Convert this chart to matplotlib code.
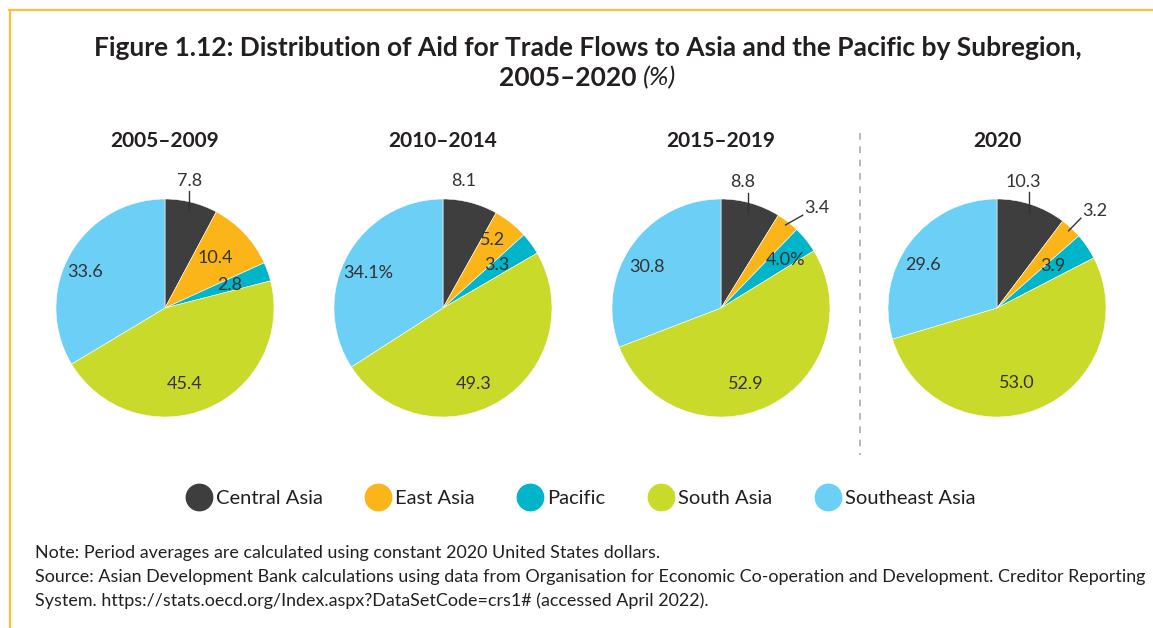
import matplotlib
matplotlib.use("Agg")
import matplotlib.pyplot as plt
import numpy as np
from matplotlib.lines import Line2D

# ---------------- data ----------------
categories = ["Central Asia", "East Asia", "Pacific", "South Asia", "Southeast Asia"]
periods = ["2005–2009", "2010–2014", "2015–2019", "2020"]
v_2005_2009 = [7.8, 10.4, 2.8, 45.4, 33.6]
v_2010_2014 = [8.1, 5.2, 3.3, 49.3, 34.1]
v_2015_2019 = [8.8, 3.4, 4.0, 52.9, 30.8]
v_2020 = [10.3, 3.2, 3.9, 53.0, 29.6]
series = [v_2005_2009, v_2010_2014, v_2015_2019, v_2020]
# label suffixes as printed in the original
suffixes = [["", "", "", "", ""],
            ["", "", "", "", "%"],
            ["", "", "%", "", ""],
            ["", "", "", "", ""]]

colors = ["#3E3E3E", "#FBB519", "#00B5CA", "#C9DA2A", "#6CCFF6"]
TXT = "#231F20"
LBL = "#333333"

# ---------------- layout / style ----------------
W, H, DPI = 1153, 628, 100
R = 109                      # pie radius in px
CY = 308                     # pie centre y (px from top)
CX = [165, 443, 721, 997]    # pie centre x
EXT = 1.45

# label placement: radius fraction and angle offset from wedge mid-angle
lab_r = [[1.19, 0.65, 0.633, 0.72, 0.80],
         [1.18, 0.775, 0.633, 0.753, 0.76],
         [1.17, 1.27, 0.734, 0.734, 0.78],
         [1.18, 1.265, 0.642, 0.712, 0.785]]
lab_off = [[2.9, 1.8, 0, -8, 5.3],
           [5.5, 2.2, 2.3, -9.3, 3.6],
           [6.3, -6, -2, -8.3, 5.7],
           [6.8, -2.5, 2.5, -7, 6.5]]
leaders = [{0: "v"}, {}, {0: "v", 1: "d"}, {0: "v", 1: "d"}]

plt.rcParams["font.family"] = ["Lato", "DejaVu Sans"]
fig = plt.figure(figsize=(W / DPI, H / DPI), dpi=DPI)
fig.patch.set_facecolor("white")


def fx(px):
    return px / W


def fy(py):
    return 1 - py / H


# frame lines (yellow)
fig.add_artist(Line2D([fx(9), 1.0], [fy(10), fy(10)], color="#FBC234", lw=1.6,
                      transform=fig.transFigure))
fig.add_artist(Line2D([fx(10), fx(10)], [fy(10), 0.0], color="#FBC234", lw=1.6,
                      transform=fig.transFigure))

# title
fig.text(fx(588), fy(48), "Figure 1.12: Distribution of Aid for Trade Flows to Asia and the Pacific by Subregion,",
         ha="center", va="center", fontsize=19, fontweight="bold", color=TXT)
fig.text(fx(637), fy(78), "2005–2020", ha="right", va="center", fontsize=19,
         fontweight="bold", color=TXT)
fig.text(fx(643), fy(78), "(%)", ha="left", va="center", fontsize=19,
         fontstyle="italic", color=TXT)

for i, vals in enumerate(series):
    cx = CX[i]
    ax = fig.add_axes([fx(cx - R * EXT), fy(CY + R * EXT), 2 * R * EXT / W, 2 * R * EXT / H])
    wedges, _ = ax.pie(vals, colors=colors, startangle=90, counterclock=False, radius=1,
                       wedgeprops=dict(edgecolor="white", linewidth=0.4))
    ax.set_xlim(-EXT, EXT)
    ax.set_ylim(-EXT, EXT)
    ax.set_aspect("equal")
    ax.axis("off")
    for j, w in enumerate(wedges):
        mid = np.deg2rad((w.theta1 + w.theta2) / 2)
        ang = mid + np.deg2rad(lab_off[i][j])
        lx = lab_r[i][j] * np.cos(ang)
        ly = lab_r[i][j] * np.sin(ang)
        ax.text(lx, ly, f"{vals[j]:.1f}{suffixes[i][j]}", ha="center", va="center",
                fontsize=13, color=LBL)
        kind = leaders[i].get(j)
        if kind == "v":
            x0, y0 = 0.92 * np.cos(mid), 0.92 * np.sin(mid)
            ax.plot([x0, x0], [y0, ly - 0.095], color=LBL, lw=1)
        elif kind == "d":
            x0, y0 = 0.965 * np.cos(mid), 0.965 * np.sin(mid)
            ax.plot([x0, lx - 0.13], [y0, ly - 0.065], color=LBL, lw=1)
    fig.text(fx(cx), fy(141), periods[i], ha="center", va="center", fontsize=15,
             fontweight="bold", color=TXT)

# dashed separator
fig.add_artist(Line2D([fx(860), fx(860)], [fy(133), fy(455)], color="#AAAAAA", lw=1.2,
                      linestyle=(0, (4, 4)), transform=fig.transFigure))

# legend
handles = [Line2D([], [], marker="o", linestyle="none", markersize=19,
                  markerfacecolor=c, markeredgecolor=c) for c in colors]
fig.legend(handles, categories, loc="center", bbox_to_anchor=(fx(581), fy(498)), ncol=5,
           frameon=False, fontsize=14.5, handlelength=1.2, handletextpad=0.25,
           columnspacing=2.15, labelcolor=TXT)

# notes
notes = ["Note: Period averages are calculated using constant 2020 United States dollars.",
         "Source: Asian Development Bank calculations using data from Organisation for Economic Co-operation and Development. Creditor Reporting",
         "System. https://stats.oecd.org/Index.aspx?DataSetCode=crs1# (accessed April 2022)."]
for k, t in enumerate(notes):
    fig.text(fx(35), fy(553 + 24 * k), t, ha="left", va="center", fontsize=12.9, color=TXT)

fig.savefig("out.png", dpi=DPI, facecolor="white")
